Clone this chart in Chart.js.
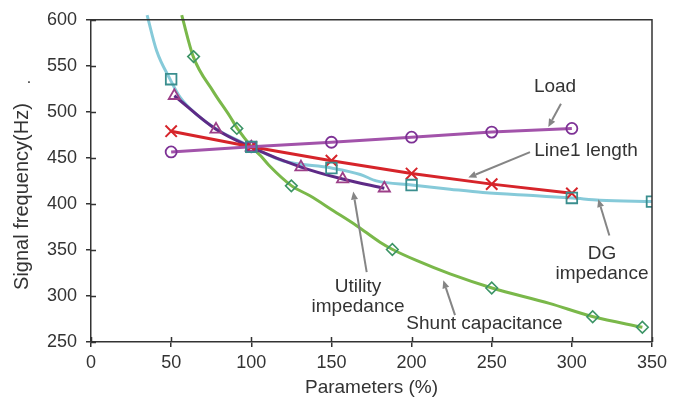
<!DOCTYPE html>
<html><head><meta charset="utf-8">
<script src="https://cdn.jsdelivr.net/npm/chart.js@4/dist/chart.umd.min.js"></script>
<style>html,body{margin:0;padding:0;background:#fff;} #c{display:block;}</style>
</head><body>
<canvas id="c" width="682" height="403"></canvas>
<script>
// ---- data ----
const xTicks = [0, 50, 100, 150, 200, 250, 300, 350];
const yTicks = [250, 300, 350, 400, 450, 500, 550, 600];

const loadX = [50, 100, 150, 200, 250, 300];
const loadY = [456.5, 462, 467, 472.5, 478, 482];

const line1X = [50, 100, 150, 200, 250, 300];
const line1Y = [479, 462, 447, 433, 421.5, 411.5];

const utilX = [52, 78, 100, 131, 157, 183];
const utilY = [517.5, 481, 461.5, 440, 427, 417];

const dgCurveX = [35, 41, 49.3, 55.5, 66, 80.5, 93, 100, 120, 150, 168, 178, 200, 224, 244.5, 278, 300.5, 317.5, 350];
const dgCurveY = [605, 566, 535.5, 516, 497, 479, 468, 462, 446.6, 439, 432, 425, 420.5, 416, 412.4, 408.8, 406.3, 404, 402.7];
const dgMarkX = [50, 100, 150, 200, 300, 350];
const dgMarkY = [535.5, 462, 439, 420.5, 406.5, 402.5];

const shuntCurveX = [56.6, 63.8, 76.3, 86.7, 91.3, 100, 106, 111, 125.2, 136.6, 151.2, 165.7, 180.3, 188.2, 203, 224, 250.2, 286, 313.4, 344];
const shuntCurveY = [605, 560, 522, 495, 482, 462.5, 452, 442, 419.6, 408.8, 392.6, 376.4, 358.4, 350.5, 338.6, 324, 308.7, 292, 277.4, 266];
const shuntMarkX = [64, 91, 125, 188, 250, 313, 344];
const shuntMarkY = [560, 482, 419.6, 350.5, 308.7, 277.4, 266];

const xTitle = 'Parameters (%)';
const yTitle = 'Signal frequency(Hz)';

// annotation labels and arrows (in data units)
const labels = [
  {lines: ['Load'], x: 289.5, y: 527.6},
  {lines: ['Line1 length'], x: 308.8, y: 457.4},
  {lines: ['DG', 'impedance'], x: 318.8, y: 346.1},
  {lines: ['Utility', 'impedance'], x: 166.6, y: 310.5},
  {lines: ['Shunt capacitance'], x: 245.5, y: 269.4}
];
const arrows = [
  {x0: 293.2, y0: 508.9, x1: 285.3, y1: 483.5},
  {x0: 273.9, y0: 456.3, x1: 235.4, y1: 428.6},
  {x0: 323.4, y0: 365.6, x1: 316.5, y1: 405.2},
  {x0: 172.0, y0: 325.9, x1: 163.6, y1: 413.4},
  {x0: 227.1, y0: 279.2, x1: 219.8, y1: 317.0}
];

const zip = (xs, ys) => xs.map((v, i) => ({x: v, y: ys[i]}));
const FONT = "'Liberation Sans', Arial, Helvetica, sans-serif";

const overlay = {
  id: 'overlay',
  afterDraw(chart) {
    const {ctx, chartArea: a, scales: {x, y}} = chart;
    ctx.save();
    ctx.strokeStyle = '#333';
    ctx.lineWidth = 1.5;
    ctx.beginPath();
    ctx.moveTo(a.left, a.top); ctx.lineTo(a.right, a.top); ctx.lineTo(a.right, a.bottom);
    ctx.stroke();
    ctx.beginPath();
    xTicks.forEach(v => { const p = Math.round(x.getPixelForValue(v)) + 0.5; ctx.moveTo(p, a.bottom); ctx.lineTo(p, a.bottom - 5); });
    yTicks.forEach(v => { const p = Math.round(y.getPixelForValue(v)) + 0.5; ctx.moveTo(a.left, p); ctx.lineTo(a.left + 5, p); });
    ctx.stroke();

    // arrows
    ctx.strokeStyle = '#858585';
    ctx.fillStyle = '#858585';
    ctx.lineWidth = 2;
    arrows.forEach(ar => {
      const X0 = x.getPixelForValue(ar.x0), Y0 = y.getPixelForValue(ar.y0);
      const X1 = x.getPixelForValue(ar.x1), Y1 = y.getPixelForValue(ar.y1);
      const ang = Math.atan2(Y1 - Y0, X1 - X0);
      const L = 8, W = 3.5;
      const bx = X1 - L * Math.cos(ang), by = Y1 - L * Math.sin(ang);
      ctx.beginPath(); ctx.moveTo(X0, Y0); ctx.lineTo(bx, by); ctx.stroke();
      ctx.beginPath();
      ctx.moveTo(X1, Y1);
      ctx.lineTo(bx + W * Math.sin(ang), by - W * Math.cos(ang));
      ctx.lineTo(bx - W * Math.sin(ang), by + W * Math.cos(ang));
      ctx.closePath(); ctx.fill();
    });

    // labels
    ctx.fillStyle = '#333';
    ctx.font = '19px ' + FONT;
    ctx.textAlign = 'center';
    ctx.textBaseline = 'middle';
    labels.forEach(lb => {
      const X = x.getPixelForValue(lb.x), Y = y.getPixelForValue(lb.y);
      lb.lines.forEach((t, i) => ctx.fillText(t, X, Y + i * 20));
    });

    // y title
    ctx.save();
    ctx.font = '20px ' + FONT;
    ctx.translate(a.left - 69, y.getPixelForValue(408));
    ctx.rotate(-Math.PI / 2);
    ctx.fillText(yTitle, 0, 0);
    ctx.restore();
    // stray dot near the y title
    ctx.font = '16px ' + FONT;
    ctx.fillText('.', a.left - 62, y.getPixelForValue(536));
    ctx.restore();
  }
};

const lineBase = {showLine: true, pointRadius: 0, borderWidth: 3, clip: false, fill: false};

new Chart(document.getElementById('c'), {
  type: 'scatter',
  data: {
    datasets: [
      {label: 'DG markers', data: zip(dgMarkX, dgMarkY), showLine: false, pointStyle: 'rect', pointRadius: 7.5,
       borderColor: '#3a8e8e', backgroundColor: 'rgba(0,0,0,0)', borderWidth: 1.8},
      {label: 'Shunt markers', data: zip(shuntMarkX, shuntMarkY), showLine: false, pointStyle: 'rectRot', pointRadius: 5.8,
       borderColor: '#3c9466', backgroundColor: 'rgba(0,0,0,0)', borderWidth: 1.6},
      {label: 'Load', data: zip(loadX, loadY), ...lineBase, borderColor: '#a253aa',
       pointRadius: 5.5, pointStyle: 'circle', pointBorderColor: '#7d3195', pointBackgroundColor: 'rgba(0,0,0,0)', pointBorderWidth: 1.8},
      {label: 'Line1 length', data: zip(line1X, line1Y), ...lineBase, borderColor: '#d6242a',
       pointRadius: 8, pointStyle: 'crossRot', pointBorderColor: '#d6242a', pointBorderWidth: 2},
      {label: 'Utility impedance', data: zip(utilX, utilY), ...lineBase, borderColor: '#5e2a86', cubicInterpolationMode: 'monotone',
       pointRadius: 6.5, pointStyle: 'triangle', pointBorderColor: '#9c3f88', pointBackgroundColor: 'rgba(0,0,0,0)', pointBorderWidth: 1.8},
      {label: 'DG impedance', data: zip(dgCurveX, dgCurveY), ...lineBase, borderColor: '#86cad9', cubicInterpolationMode: 'monotone'},
      {label: 'Shunt capacitance', data: zip(shuntCurveX, shuntCurveY), ...lineBase, borderColor: '#7ab84a', cubicInterpolationMode: 'monotone'}
    ]
  },
  options: {
    responsive: false,
    animation: false,
    events: [],
    layout: {padding: {top: 18, right: 30, left: 0, bottom: 0}},
    plugins: {legend: {display: false}, tooltip: {enabled: false}},
    scales: {
      x: {
        type: 'linear', min: 0, max: 350,
        afterFit: s => { s.height = 61; },
        afterBuildTicks: s => { s.ticks = xTicks.map(v => ({value: v})); },
        ticks: {color: '#333', font: {family: FONT, size: 18}, padding: 5, maxRotation: 0},
        grid: {drawOnChartArea: false, drawTicks: true, tickLength: 5, color: '#333', lineWidth: 1.5},
        border: {display: true, color: '#333', width: 1.5},
        title: {display: true, text: xTitle, color: '#333', font: {family: FONT, size: 19}, padding: {top: 0, bottom: 4}}
      },
      y: {
        type: 'linear', min: 250, max: 600,
        afterFit: s => { s.width = 91; },
        afterBuildTicks: s => { s.ticks = yTicks.map(v => ({value: v})); },
        ticks: {color: '#333', font: {family: FONT, size: 18}, padding: 9},
        grid: {drawOnChartArea: false, drawTicks: true, tickLength: 5, color: '#333', lineWidth: 1.5},
        border: {display: true, color: '#333', width: 1.5}
      }
    }
  },
  plugins: [overlay]
});
</script>
</body></html>
